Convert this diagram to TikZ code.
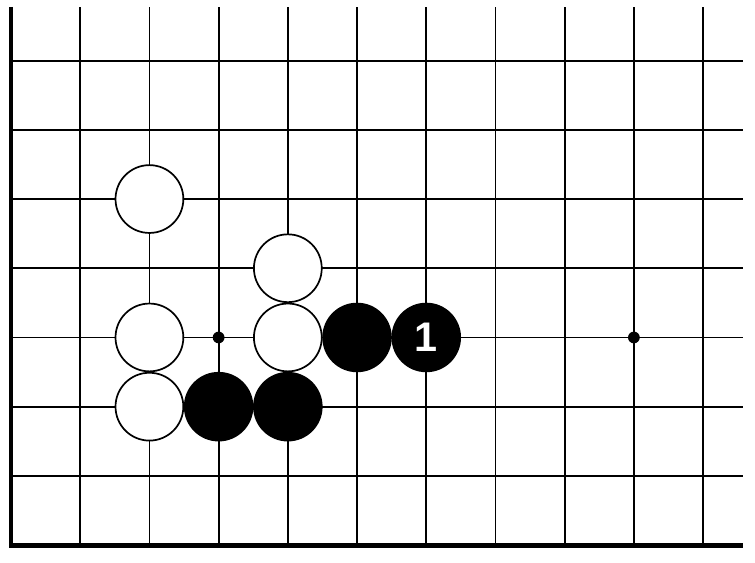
\documentclass[tikz,border=0pt]{standalone}
\usepackage{fontspec}
\setsansfont{Liberation Sans}
\begin{document}
\begin{tikzpicture}[line width=0.75pt,
  wstone/.style={circle,draw,fill=white,minimum size=9.8mm,inner sep=0pt,line width=0.7pt},
  bstone/.style={circle,draw,fill=black,minimum size=9.8mm,inner sep=0pt,line width=0.7pt},
  hoshi/.style={circle,fill=black,minimum size=1.7mm,inner sep=0pt}]
\useasboundingbox (-0.159,-0.246) rectangle (10.75,7.876);
% board
\foreach \x in {1,...,10} \draw (\x,0) -- (\x,7.775);
\foreach \y in {1,...,7} \draw (0,\y) -- (10.58,\y);
\draw[line width=2pt] (0,7.775) -- (0,0) -- (10.58,0);
\node [hoshi] (s1) at (3,3) {};
\node [hoshi] (s2) at (9,3) {};
% white
\node [wstone] (w1) at (2,5) {};
\node [wstone] (w2) at (4,4) {};
\node [wstone] (w3) at (2,3) {};
\node [wstone] (w4) at (4,3) {};
\node [wstone] (w5) at (2,2) {};
% black
\node [bstone] (b1) at (3,2) {};
\node [bstone] (b2) at (4,2) {};
\node [bstone] (b3) at (5,3) {};
\node [bstone,text=white,font=\sffamily\bfseries\fontsize{17}{17}\selectfont] (b4) at (6,3) {1};
\end{tikzpicture}
\end{document}
